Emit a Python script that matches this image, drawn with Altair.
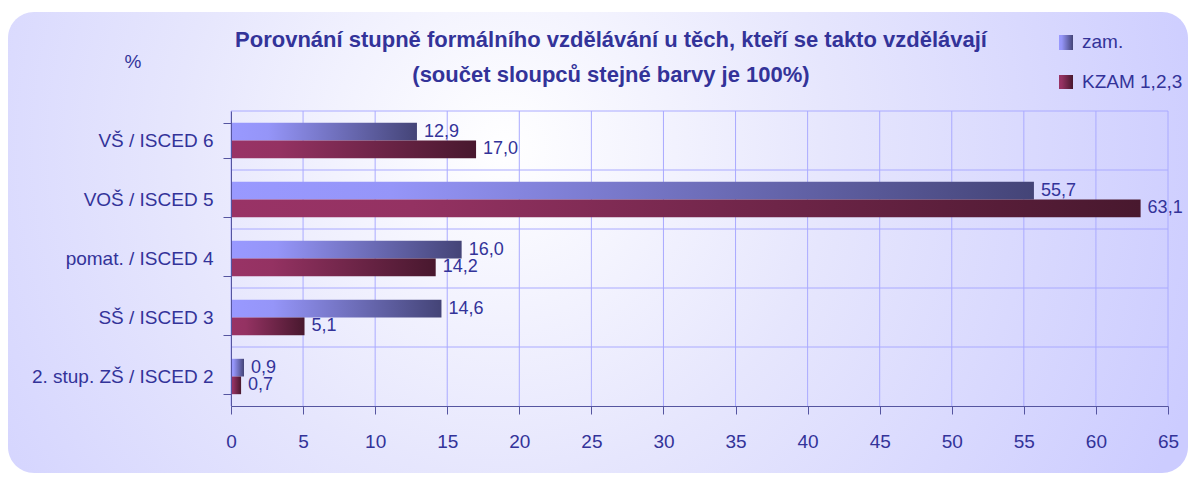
import altair as alt
import pandas as pd

categories = ["VŠ / ISCED 6", "VOŠ / ISCED 5", "pomat. / ISCED 4", "SŠ / ISCED 3", "2. stup. ZŠ / ISCED 2"]
series = ["zam.", "KZAM 1,2,3"]
zam_values = [12.9, 55.7, 16.0, 14.6, 0.9]
kzam_values = [17.0, 63.1, 14.2, 5.1, 0.7]
x_ticks = [0, 5, 10, 15, 20, 25, 30, 35, 40, 45, 50, 55, 60, 65]
title_lines = ["Porovnání stupně formálního vzdělávání u těch, kteří se takto vzdělávají",
               "(součet sloupců stejné barvy je 100%)"]
unit_label = "%"

rows = []
for c, a, b in zip(categories, zam_values, kzam_values):
    rows.append({"cat": c, "series": series[0], "value": a, "label": f"{a:.1f}".replace(".", ",")})
    rows.append({"cat": c, "series": series[1], "value": b, "label": f"{b:.1f}".replace(".", ",")})
df = pd.DataFrame(rows)

FONT = "Liberation Sans, Arial"
TXT = "#333399"
GRID = "#aaaaff"
AXC = "#5555a0"
W, H = 937, 295
PAD_OUTER = 0.2
STEP = H / len(categories)

grad_zam = alt.Gradient(gradient="linear", x1=0, x2=1, y1=0, y2=0,
                        stops=[alt.GradientStop(color="#9999ff", offset=0),
                               alt.GradientStop(color="#9595f8", offset=0.2),
                               alt.GradientStop(color="#444477", offset=1)])
grad_kzam = alt.Gradient(gradient="linear", x1=0, x2=1, y1=0, y2=0,
                         stops=[alt.GradientStop(color="#993366", offset=0),
                                alt.GradientStop(color="#943262", offset=0.2),
                                alt.GradientStop(color="#48182e", offset=1)])
bg_grad = alt.Gradient(gradient="radial", x1=0.42, y1=0.42, x2=0.42, y2=0.42, r1=0, r2=0.62,
                       stops=[alt.GradientStop(color="#ffffff", offset=0),
                              alt.GradientStop(color="#e6e6fd", offset=0.45),
                              alt.GradientStop(color="#ccccff", offset=1)])

one = pd.DataFrame({"a": [0]})

background = alt.Chart(one).mark_rect(
    fill=bg_grad, cornerRadius=26
).encode(x=alt.value(-223), x2=alt.value(957), y=alt.value(-99), y2=alt.value(362))

yscale = alt.Scale(domain=categories, paddingInner=0.4, paddingOuter=PAD_OUTER)
xscale = alt.Scale(domain=[0, 65], nice=False)
yoff_scale = alt.Scale(domain=series, paddingInner=0, paddingOuter=0)

# grid lines (drawn above the background, below the bars)
vgrid = alt.Chart(pd.DataFrame({"v": x_ticks})).mark_rule(color=GRID, strokeWidth=1).encode(
    x=alt.X("v:Q", scale=xscale), y=alt.value(0), y2=alt.value(H))
hgrid = alt.Chart(pd.DataFrame({"cat": categories})).mark_rule(
    color=GRID, strokeWidth=1, yOffset=-STEP * PAD_OUTER
).encode(
    y=alt.Y("cat:N", scale=yscale, sort=categories, bandPosition=0),
    x=alt.value(0), x2=alt.value(W))

base = alt.Chart(df)

bars_zam = base.transform_filter(alt.datum.series == series[0]).mark_bar(fill=grad_zam).encode(
    y=alt.Y("cat:N", scale=yscale, sort=categories,
            axis=alt.Axis(title=None, tickBand="extent", grid=False, zindex=1, labelLimit=400,
                          domainColor=AXC, tickColor=AXC, tickSize=8,
                          labelFont=FONT, labelFontSize=19, labelColor=TXT, labelPadding=10)),
    yOffset=alt.YOffset("series:N", sort=series, scale=yoff_scale),
    x=alt.X("value:Q", scale=xscale,
            axis=alt.Axis(title=None, values=x_ticks, grid=False, zindex=1, labelFlush=False,
                          domainColor=AXC, tickColor=AXC, tickSize=8,
                          labelFont=FONT, labelFontSize=19, labelColor=TXT, labelPadding=18)),
)
bars_kzam = base.transform_filter(alt.datum.series == series[1]).mark_bar(fill=grad_kzam).encode(
    y=alt.Y("cat:N", scale=yscale, sort=categories),
    yOffset=alt.YOffset("series:N", sort=series, scale=yoff_scale),
    x=alt.X("value:Q", scale=xscale),
)
labels = base.mark_text(align="left", baseline="middle", dx=7, font=FONT, fontSize=18, color=TXT).encode(
    y=alt.Y("cat:N", scale=yscale, sort=categories),
    yOffset=alt.YOffset("series:N", sort=series, scale=yoff_scale),
    x=alt.X("value:Q", scale=xscale),
    text="label:N",
)

title1 = alt.Chart(pd.DataFrame({"t": [title_lines[0]]})).mark_text(
    font=FONT, fontSize=22, fontWeight="bold", color=TXT, align="center", baseline="middle"
).encode(x=alt.value(380), y=alt.value(-71), text="t:N")
title2 = alt.Chart(pd.DataFrame({"t": [title_lines[1]]})).mark_text(
    font=FONT, fontSize=22, fontWeight="bold", color=TXT, align="center", baseline="middle"
).encode(x=alt.value(380), y=alt.value(-36), text="t:N")
pct = alt.Chart(pd.DataFrame({"t": [unit_label]})).mark_text(
    font=FONT, fontSize=19, color=TXT, align="center", baseline="middle"
).encode(x=alt.value(-98), y=alt.value(-49), text="t:N")

leg_zam_sq = alt.Chart(one).mark_rect(fill=grad_zam).encode(
    x=alt.value(828), x2=alt.value(842), y=alt.value(-76), y2=alt.value(-61))
leg_kzam_sq = alt.Chart(one).mark_rect(fill=grad_kzam).encode(
    x=alt.value(828), x2=alt.value(842), y=alt.value(-36), y2=alt.value(-22))
leg_zam_t = alt.Chart(pd.DataFrame({"t": [series[0]]})).mark_text(
    font=FONT, fontSize=19, color=TXT, align="left", baseline="middle"
).encode(x=alt.value(851), y=alt.value(-69), text="t:N")
leg_kzam_t = alt.Chart(pd.DataFrame({"t": [series[1]]})).mark_text(
    font=FONT, fontSize=19, color=TXT, align="left", baseline="middle"
).encode(x=alt.value(851), y=alt.value(-29), text="t:N")

chart = alt.layer(
    background, vgrid, hgrid, bars_zam, bars_kzam, labels, title1, title2, pct,
    leg_zam_sq, leg_kzam_sq, leg_zam_t, leg_kzam_t
).properties(
    width=W, height=H,
    autosize=alt.AutoSizeParams(type="none"),
    padding={"left": 223, "top": 103, "right": 20, "bottom": 67},
    background="white",
).configure_view(stroke=None)

chart.save("out.html", embed_options={"renderer": "svg", "actions": False})
